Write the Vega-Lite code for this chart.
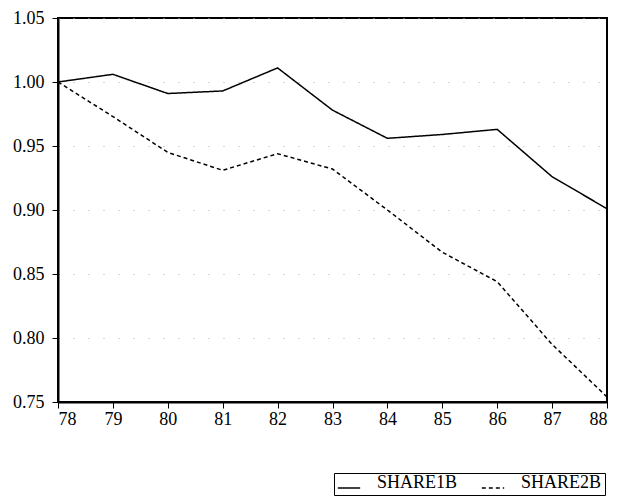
{
  "$schema": "https://vega.github.io/schema/vega-lite/v6.json",
  "width": 549,
  "height": 384,
  "autosize": "none",
  "padding": {"left": 58, "top": 18, "right": 11, "bottom": 95},
  "background": "white",
  "config": {
    "view": {"stroke": "black", "strokeWidth": 2},
    "font": "Liberation Serif"
  },
  "data": {
    "values": [
      {"year": 78, "series": "SHARE1B", "value": 1.000},
      {"year": 79, "series": "SHARE1B", "value": 1.006},
      {"year": 80, "series": "SHARE1B", "value": 0.991},
      {"year": 81, "series": "SHARE1B", "value": 0.993},
      {"year": 82, "series": "SHARE1B", "value": 1.011},
      {"year": 83, "series": "SHARE1B", "value": 0.978},
      {"year": 84, "series": "SHARE1B", "value": 0.956},
      {"year": 85, "series": "SHARE1B", "value": 0.959},
      {"year": 86, "series": "SHARE1B", "value": 0.963},
      {"year": 87, "series": "SHARE1B", "value": 0.926},
      {"year": 88, "series": "SHARE1B", "value": 0.901},
      {"year": 78, "series": "SHARE2B", "value": 1.000},
      {"year": 79, "series": "SHARE2B", "value": 0.973},
      {"year": 80, "series": "SHARE2B", "value": 0.945},
      {"year": 81, "series": "SHARE2B", "value": 0.931},
      {"year": 82, "series": "SHARE2B", "value": 0.944},
      {"year": 83, "series": "SHARE2B", "value": 0.932},
      {"year": 84, "series": "SHARE2B", "value": 0.900},
      {"year": 85, "series": "SHARE2B", "value": 0.867},
      {"year": 86, "series": "SHARE2B", "value": 0.844},
      {"year": 87, "series": "SHARE2B", "value": 0.795},
      {"year": 88, "series": "SHARE2B", "value": 0.754}
    ]
  },
  "mark": {"type": "line", "color": "black", "strokeWidth": 1.5},
  "encoding": {
    "x": {
      "field": "year",
      "type": "quantitative",
      "scale": {"domain": [78, 88], "nice": false, "zero": false},
      "axis": {
        "values": [78, 79, 80, 81, 82, 83, 84, 85, 86, 87, 88],
        "grid": false,
        "title": null,
        "labelFont": "Liberation Serif",
        "labelFontSize": 18,
        "labelColor": "black",
        "domainColor": "black",
        "domainWidth": 2,
        "tickColor": "black",
        "tickSize": 6,
        "labelPadding": 2
      }
    },
    "y": {
      "field": "value",
      "type": "quantitative",
      "scale": {"domain": [0.75, 1.05], "nice": false, "zero": false},
      "axis": {
        "values": [0.75, 0.80, 0.85, 0.90, 0.95, 1.00, 1.05],
        "format": ".2f",
        "title": null,
        "grid": true,
        "gridColor": "#aaaaaa",
        "gridDash": [1, 14],
        "gridWidth": 1,
        "labelFont": "Liberation Serif",
        "labelFontSize": 18,
        "labelColor": "black",
        "domainColor": "black",
        "domainWidth": 2,
        "tickColor": "black",
        "tickSize": 6,
        "labelPadding": 8
      }
    },
    "strokeDash": {
      "field": "series",
      "type": "nominal",
      "scale": {"domain": ["SHARE1B", "SHARE2B"], "range": [[1, 0], [4, 3]]},
      "legend": {
        "title": null,
        "orient": "none",
        "legendX": 276,
        "legendY": 455,
        "direction": "horizontal",
        "columns": 2,
        "symbolType": "stroke",
        "symbolSize": 500,
        "symbolStrokeColor": "black",
        "symbolStrokeWidth": 1.5,
        "labelFont": "Liberation Serif",
        "labelFontSize": 18,
        "labelBaseline": "alphabetic",
        "labelColor": "black",
        "strokeColor": "black",
        "padding": 3,
        "columnPadding": 20,
        "labelOffset": 16
      }
    }
  }
}
